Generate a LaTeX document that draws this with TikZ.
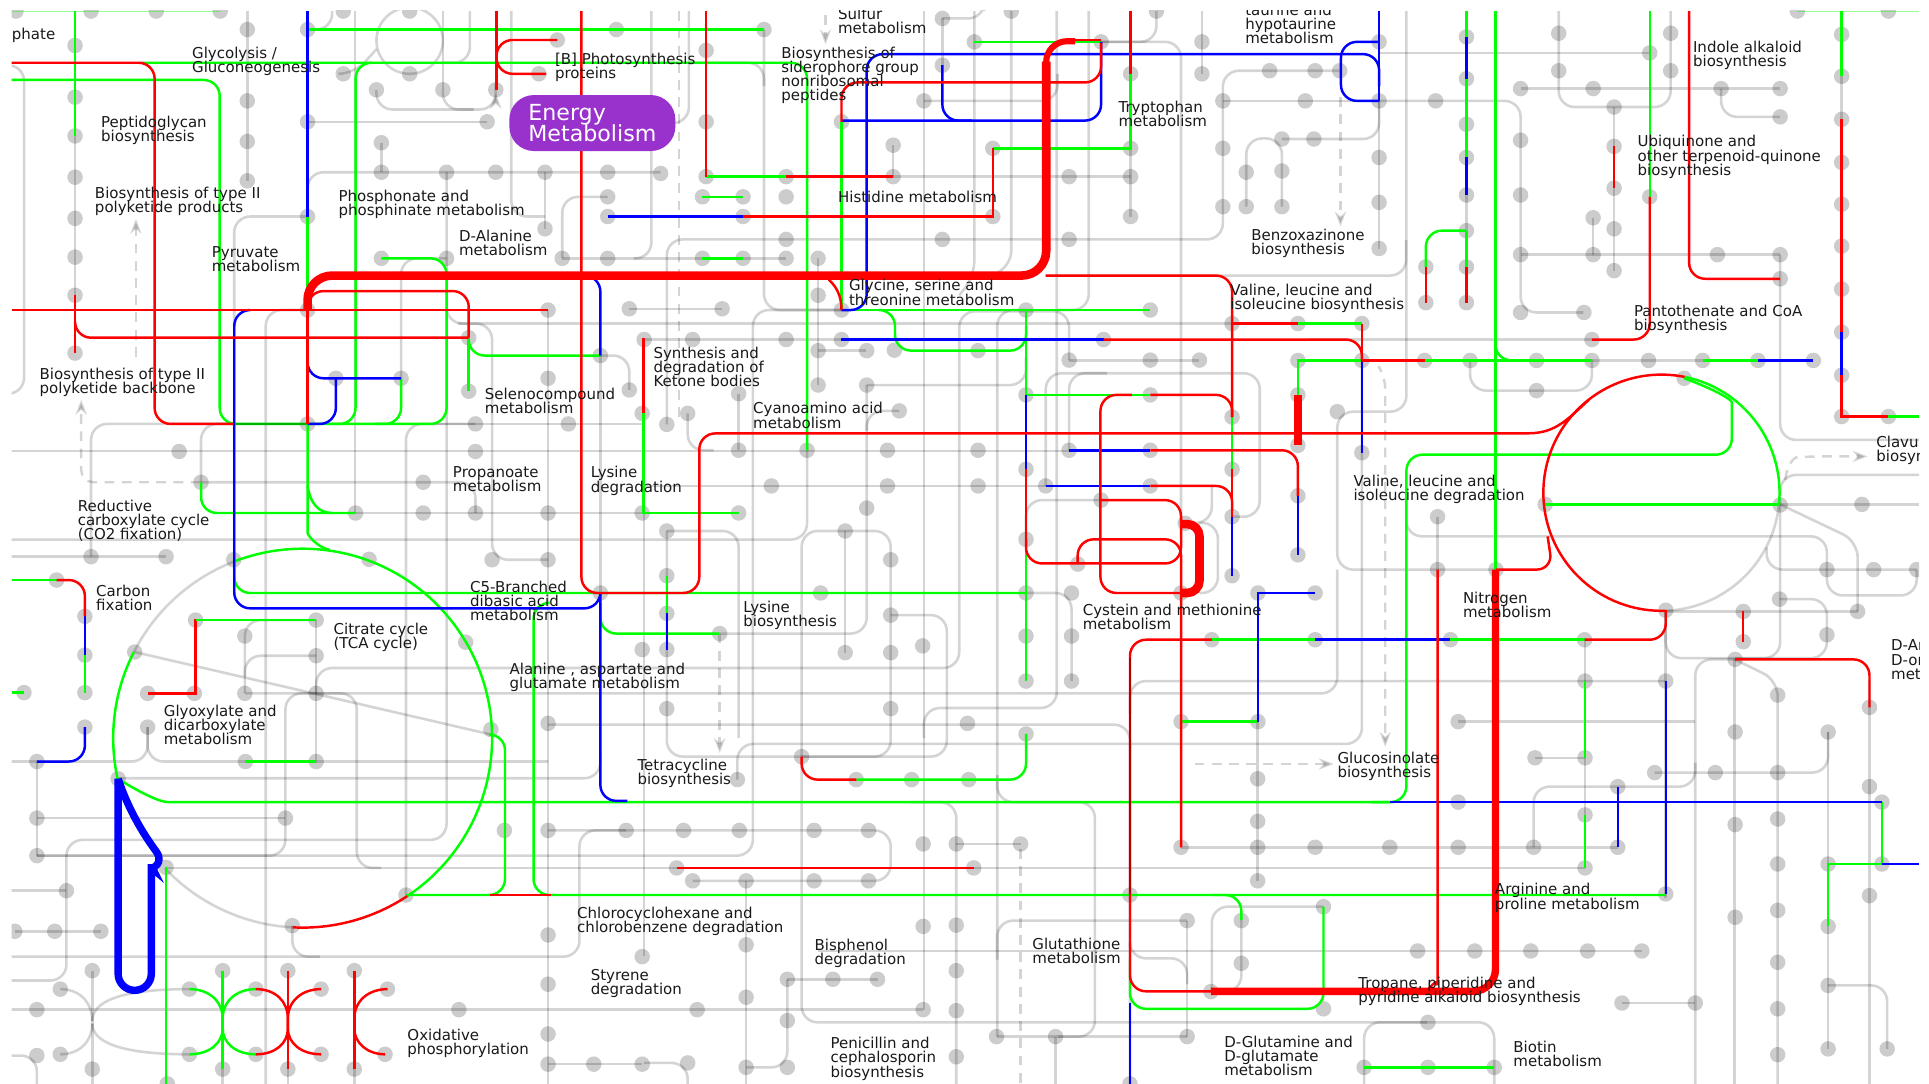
\documentclass[tikz,border=0pt]{standalone}
\usepackage{fontspec}
\setmainfont{DejaVu Sans}
\usepackage{xcolor}
\usetikzlibrary{arrows.meta}
\definecolor{mapred}{RGB}{255,0,0}
\definecolor{mapgreen}{RGB}{0,255,0}
\definecolor{mapblue}{RGB}{0,0,255}
\definecolor{energyfill}{RGB}{153,50,204}
\newcommand{\ringarc}[6]{\draw[#1] plot[domain=#5:#6,samples=90,smooth] ({#2+#4*cos(\x)},{#3+#4*sin(\x)});}
\begin{document}
\begin{tikzpicture}[x=1pt, y=-1pt, >={Stealth},
  gl/.style={draw=black, opacity=.17, line width=2.1pt, rounded corners=13pt},
  dsh/.style={draw=black, opacity=.17, line width=2pt, dash pattern=on 8pt off 6pt, rounded corners=10pt},
  dot/.style={fill=black, opacity=.2},
  ovl/.style={draw=black, opacity=.3, line width=2pt},
  rl/.style={draw=mapred, line width=2pt, rounded corners=13pt},
  gn/.style={draw=mapgreen, line width=2pt, rounded corners=13pt},
  bl/.style={draw=mapblue, line width=2pt, rounded corners=13pt},
  lbl/.style={anchor=north west, inner sep=0pt, align=left, text=black!90, yshift=-1pt,
    font={\fontsize{12.2}{11.5}\selectfont\lineskiplimit-10pt\relax}}]
  \path[fill=white] (0,0) rectangle (1568,881);
  \useasboundingbox (0,0) rectangle (1568,881);
  \clip (9.5,8.5) rectangle (1560,881);
  \draw[gl] (9.5,53)--(19.6,53)--(19.6,320)--(9.5,320);
  \draw[gl] (61,9)--(61,287);
  \draw[gl] (201,9)--(201,147);
  \draw[gl] (250,24)--(270,24)--(270,9);
  \draw[gl] (288.5,9)--(288.5,417);
  \draw[gl] (333,33) ellipse [x radius=27, y radius=27];
  \draw[gl] (279,60)--(288,60)--(306,40);
  \draw[gl] (360,9)--(360,73);
  \draw[gl] (382,9)--(382,51)--(360,51);
  \draw[gl,-{Stealth}] (306,73)--(306,89)--(403,89)--(403,76);
  \draw[gl] (360,73)--(360,89)--(385,89);
  \draw[gl] (415.6,9)--(415.6,176)--(443,176);
  \draw[gl] (250,99)--(396,99);
  \draw[gl] (250,176)--(190.4,176)--(190.4,482);
  \draw[gl] (250,176)--(250,140)--(537,140);
  \draw[gl] (310,116)--(310,140);
  \draw[gl] (363,140)--(363,682.7)--(54,682.7)--(54,724);
  \draw[gl] (443,140)--(443,186);
  \draw[gl] (494,160)--(457,160)--(457,210);
  \draw[gl] (457,210)--(639,210);
  \draw[gl] (363,210)--(326,210)--(326,307.5);
  \draw[gl] (386.5,344.6)--(330,344.6)--(330,727.5);
  \draw[gl] (250,344.6)--(522,344.6);
  \draw[gl] (74,452.5)--(74,344.6)--(250,344.6);
  \draw[gl] (163.4,392)--(163.4,344.6)--(190,344.6);
  \draw[gl] (216,881)--(216,252)--(250,252);
  \draw[gl] (363,250)--(363,263)--(400,263)--(400,455)--(445.5,455);
  \draw[gl] (445.5,252)--(445.5,881);
  \draw[gl] (488,289)--(511.5,289)--(511.5,317);
  \draw[gl] (511.5,251)--(587,251);
  \draw[gl] (488,289)--(488,482);
  \draw[gl] (529.5,9)--(529.5,210)--(515,210);
  \draw[gl] (560,9)--(560,100)--(540,100);
  \draw[gl] (560,51)--(621,51)--(621,70);
  \draw[gl] (621,24)--(621,252)--(684,252);
  \draw[gl] (542,345)--(542,194.6)--(994,194.6)--(994,57.5)--(1089,57.5);
  \draw[gl] (994,82)--(1121,82);
  \draw[gl] (372,263)--(1055,263);
  \draw[gl] (523.6,276)--(897,276);
  \draw[gl] (9,366.5)--(935,366.5);
  \draw[gl] (163,392)--(386.5,392)--(386.5,417);
  \draw[gl] (524,395)--(935,395);
  \draw[gl] (289,417)--(600.4,417);
  \draw[gl] (9,438.6)--(656,438.6)--(656,360);
  \draw[gl] (9,452.5)--(135,452.5);
  \draw[gl] (542,431.6)--(600.4,431.6)--(600.4,600);
  \draw[gl] (687,431.6)--(651.6,431.6)--(651.6,831)--(1214.6,831)--(1214.6,881);
  \draw[gl] (687,431.6)--(724,431.6)--(724,615)--(651.6,615);
  \draw[gl] (687,431.6)--(687,530.5);
  \draw[gl] (30,695.5)--(612,695.5)--(612,252)--(684,252);
  \draw[gl] (704.5,313)--(704.5,515)--(585,515);
  \draw[gl] (724,500)--(769.6,500)--(769.6,615)--(651.6,615);
  \draw[gl] (257,563.6)--(257,543)--(779.7,543)--(779.7,253)--(869,253)--(869,293);
  \draw[gl] (792,9)--(792,225)--(779.7,240);
  \draw[gl] (751,9)--(751,820.7);
  \draw[gl] (751,600)--(751,575.5)--(859,575.5)--(859,9);
  \draw[gl] (810.6,842.6)--(810.6,252)--(840,252);
  \draw[gl] (1143.2,9)--(1143.2,334.6)--(1087,334.6)--(1087,463)--(1216,463);
  \draw[gl] (1143,195)--(1143,224)--(850,224);
  \draw[gl] (1121,43)--(1341,43);
  \draw[gl] (1121,82)--(1236,82)--(1236,254)--(1287,254);
  \draw[gl] (1121,82)--(1121,113)--(1042,113);
  \draw[gl] (1121,82)--(1121,202);
  \draw[gl] (1236,72)--(1447,72);
  \draw[gl] (1399,72)--(1399,95)--(1447,95);
  \draw[gl] (1267,9)--(1267,87)--(1358,87)--(1358,9);
  \draw[gl] (1312,87)--(1312,220);
  \draw[gl] (1295,177)--(1295,207);
  \draw[gl] (1236,207)--(1447,207);
  \draw[gl] (1447,207)--(1447,357.6)--(1560,357.6);
  \draw[gl] (1497,9)--(1497,338);
  \draw[gl] (1192,9)--(1192,246);
  \draw[gl] (1107,293)--(1107,604.7)--(599.4,604.7)--(599.4,633.7);
  \draw[gl] (1065,276)--(1294,276);
  \draw[gl] (1055,293)--(1474,293);
  \draw[gl] (1195,293)--(1195,317.5)--(1294,317.5)--(1294,293);
  \draw[gl] (1447,410)--(1560,410);
  \draw[gl] (1447,410)--(1447,386)--(1560,386);
  \draw[gl] (1447,410)--(1447,535)--(1354,535)--(1354,496);
  \draw[gl] (1447,410)--(1510,440)--(1510,497);
  \draw[gl] (1354,497)--(1510,497);
  \draw[gl] (1143,400)--(1143,436)--(1485,436)--(1485,484)--(1558,484)--(1558,463);
  \draw[gl] (1436,445)--(1436,463)--(1558,463);
  \draw[gl] (1446.5,487)--(1485,487)--(1485,535)--(1410,535);
  \draw[gl] (1410,536)--(1445,553)--(1445,881);
  \draw[gl] (1410,536)--(1378,536)--(1378,881);
  \draw[gl] (1410,536)--(1410,881);
  \draw[gl] (1185.3,586.3)--(1378,586.3);
  \draw[gl] (1354,496)--(1354,730);
  \draw[gl] (1168.5,420)--(1168.5,463);
  \draw[gl] (1486,595)--(1486,628)--(1345,628);
  \draw[gl] (1247.7,616)--(1288.4,616);
  \draw[gl] (1288.4,520)--(1288.4,705.5);
  \draw[gl] (1315,639.4)--(1246.6,639.4)--(1246.6,688.7);
  \draw[gl] (1315,639.4)--(1378,639.4)--(1378,620);
  \draw[gl] (960,688.7)--(1315,688.7);
  \draw[gl] (135,705.5)--(1288,705.5);
  \draw[gl] (1022.3,586.6)--(1022.3,716);
  \draw[gl] (1075.8,737)--(985,737)--(985,806);
  \draw[gl] (1009,748)--(1009,806)--(995,806);
  \draw[gl] (965,748.3)--(810.6,748.3)--(810.6,780);
  \draw[gl] (965,748.3)--(965,842.6);
  \draw[gl] (918.5,770)--(918.5,779)--(965,779)--(965,800);
  \draw[gl] (665,773)--(1334.6,773);
  \draw[gl] (1160,831)--(1108.8,831)--(1108.8,881);
  \draw[gl] (1318.4,815.3)--(1378,815.3);
  \draw[gl] (1486,595)--(1486,852.6);
  \draw[gl] (1486,801)--(1534,801)--(1534,852.6);
  \draw[gl] (1519.6,553)--(1519.6,881);
  \draw[gl] (445.5,589)--(918.5,589)--(918.5,881);
  \draw[gl] (918.5,580)--(918.5,553.6)--(1354,553.6);
  \draw[gl] (199.5,563.6)--(1087,563.6)--(1087,463);
  \draw[gl] (199,563.6)--(199,504)--(257,504);
  \draw[gl] (199,550)--(199,533)--(257,533);
  \draw[gl] (257,504)--(257,619);
  \draw[gl] (232,665)--(232,563.6)--(290,563.6)--(290,705.5)--(310,705.5);
  \draw[gl] (30,619)--(30,695.5);
  \draw[gl] (9,619)--(120,619)--(120,591);
  \draw[gl] (120,591)--(120,619)--(445.5,619);
  \draw[gl] (96,632.6)--(488,632.6)--(488,612);
  \draw[gl] (30,665)--(232,665);
  \draw[gl] (30,695.5)--(232,695.5)--(232,665);
  \draw[gl] (9,724)--(54,724);
  \draw[gl] (54,724)--(54,797)--(9,797);
  \draw[gl] (12,757)--(82,757);
  \draw[gl] (9,777.6)--(471,777.6)--(471,675)--(509,675);
  \draw[gl] (237.6,752.4)--(237.6,777.6)--(260,777.6);
  \draw[gl] (445.5,675)--(724,675)--(724,716)--(563,716);
  \draw[gl] (9,820.7)--(750.4,820.7);
  \draw[gl] (49,804) .. controls (65,804) and (75,815) .. (75,830);
  \draw[gl] (154,804) .. controls (95,804) and (75,815) .. (75,830);
  \draw[gl] (49,857) .. controls (65,857) and (75,846) .. (75,832);
  \draw[gl] (154,857) .. controls (95,857) and (75,846) .. (75,832);
  \draw[gl] (75,789)--(75,881);
  \draw[gl] (9,858)--(30,858)--(30,881);
  \draw[gl] (181,869)--(181,881);
  \draw[gl] (234,869)--(234,881);
  \draw[gl] (288,869)--(288,881);
  \draw[gl] (445.5,865)--(522,865);
  \draw[gl] (740,652)--(777.3,652)--(777.3,881);
  \draw[gl] (777.3,686)--(829.6,686);
  \draw[gl] (640,796)--(713.3,796);
  \draw[gl] (640,796)--(640,867.6)--(606.5,867.6);
  \draw[gl] (606.5,716)--(606.5,881);
  \draw[gl] (523.6,417)--(523.6,777);
  \draw[gl] (523.6,864)--(559,864)--(559,881);
  \draw[gl] (542,431.6)--(542,615)--(651.6,615);
  \draw[gl] (600.4,320)--(600.4,366);
  \draw[gl] (559,336)--(559,366)--(580,366);
  \draw[gl] (731,334)--(704.5,334)--(704.5,350);
  \draw[gl] (665,210)--(665,313);
  \draw[gl] (665,285)--(704,285);
  \draw[gl] (704.5,313)--(834,313)--(834,290);
  \draw[gl] (869,293)--(975,293);
  \draw[gl] (822,9)--(822,217)--(805,224);
  \draw[gl] (859.6,60)--(859.6,82)--(751,82);
  \draw[gl] (885,9)--(885,252)--(860,252);
  \draw[gl] (895,34)--(960,34)--(960,425);
  \draw[gl] (1013,168)--(1013,112.5)--(1042,112.5)--(1042,168);
  \draw[gl] (919,9)--(919,176);
  \draw[gl] (726,118)--(726,143.6);
  \draw[gl] (726,143.6)--(919,143.6);
  \draw[gl] (766,15)--(800,15)--(800,9);
  \draw[gl] (766,15)--(766,53);
  \draw[gl] (895,34)--(940,34)--(940,9);
  \draw[gl] (977,9)--(977,60);
  \draw[gl] (850,395)--(850,303.4)--(1024,303.4)--(1024,420)--(1001,420);
  \draw[gl] (869,366)--(869,303.4)--(900,303.4);
  \draw[gl] (985,395)--(985,425)--(965,425);
  \draw[gl] (975,425)--(990,425)--(990,482)--(975,482);
  \draw[gl] (834,438)--(834,406.5)--(895,406.5);
  \draw[gl] (834,482)--(871,482)--(871,553.6);
  \draw[gl] (810.6,842.6)--(965,842.6);
  \draw[gl] (858,842.6)--(858,881);
  \draw[gl] (810.6,630)--(810.6,652)--(890,652)--(890,842.6)--(860,842.6);
  \draw[gl] (109.5,530)--(399,597);
  \ringarc{gl,rounded corners=0pt}{246}{600}{154}{207}{249}
  \ringarc{gl,rounded corners=0pt}{246}{600}{154}{93}{136.6}
  \ringarc{gl,rounded corners=0pt}{1350.5}{400.5}{96}{6}{88}
  \draw[dsh,->] (110.5,290)--(110.5,178);
  \draw[dsh,->] (163,392)--(66,392)--(66,325);
  \draw[dsh] (552,9)--(552,340);
  \draw[dsh,->] (585,515)--(585,612);
  \draw[dsh,->] (671,12)--(671,36);
  \draw[dsh,->] (1089.6,79)--(1089.6,184);
  \draw[dsh,->] (971,621)--(1084,621);
  \draw[dsh,->] (1122,300)--(1126,306)--(1126,607);
  \draw[dsh] (829.6,690)--(829.6,881);
  \draw[dsh,->] (1451,390) .. controls (1453,378) and (1458,372) .. (1470,371)--(1518,371);
  \foreach \x/\y in {13/9,74/9,127/9,179/9,279/9,333/9,61/37,61/79,61/110.5,61/144,61/177.5,61/209,61/240,61/287,
    201/24,201/82,201/115,201/147,250/24,250/99,250/176,250/252,279/60,306/73,333/60,360/73,403/73,396/99,
    453/32.5,438/60,501/24,310/116,310/140,363/140,403/140,443/140,494/140,494/160,494/176,443/186,457/210,
    494/210,310/210,363/210,445.5/252,511.5/251,381/274.5,488/289,
    621/24,574/41,766/15,822/9,895/34,792/34,977/34,940/9,766/53,977/60,919/60,1032/57.5,751/82,994/82,574/99,
    684/99,726/118,807/120.6,919/120.6,994/120.6,537/141,574/143.6,639/143.6,726/143.6,869/143.6,
    919/143.6,1013/140,571/160,604/160,639/160,604/176,807/176,919/176,994/168,1013/168,
    639/194.6,766/194.6,869/194.6,571/210,604/210,639/210,665/210,665/240,587/251,684/252,834/252,935/252,
    1001.5/263,523.6/276,563/276,639/276,684/276,897/276,665/285,704.5/285,727/284.6,795/285,869/292.7,
    935/292.7,975/292.7,
    1121/34,1192/30,1267/27,1358/27,1341/43,1461/9,1535/9,1497/28,1497/62,1497/97,1497/132,1497/166,1497/200,
    1497/235,1497/270,1069/57.5,1089/57.5,1192/64,1267/57.5,1358/57.5,1061/82,1121/82,1167/82,1236/72,1295/72,
    1399/72,1447/72,1447/95,1312/87,1192/101,1068/113,1042/113,1236/114,1312/119,1121/128,1192/128,1042/139,1042/168,1236/158.5,
    1192/158.5,1312/153,1341/160,1121/164.5,1295/177,1312/186,1192/187.5,1121/202,1236/207,1295/207,1396/207,
    1447/207,1312/220,1159/217,1192/217,1447/226.6,1159/246,1192/246,1236/254,1287.5/254,1055/263,1107/263,
    1294/276,1055/293,1107/293,1158/293,1195/293,1249/293,1294/293,1340/293,1384/293,1429/293,1474/293}
    \fill[dot] (\x,\y) circle (6.3);
  \foreach \x/\y in {273/307.5,326/307.5,381/318,445.5/307.5,511.5/317,522/336,250/344.6,386.5/344.6,462/344.6,
    145.6/367,386.5/367,163.4/392,344/392,289/417,344/417,386.5/417,445.5/417,522/417,74/452.5,135/452.5,190/455,
    300/454.6,400/455,445.5/455,46/471.5,69/501,69/532.5,488/482,159/504,257/504,199/517,109.5/530,257/533,
    378.5/522,19.5/563,69/563,120/563.6,158/563.6,199/563.6,257/563.6,445.5/588,69/591,120/591,399/593,522/528,
    665/313,704.5/313,600.4/320,731/334,559/336,542/345,600.4/366,656/366,721.4/366,795/366,869/366,
    935/366,834/321,935/321,1001.5/339,1001.5/381.5,834/381.5,627/395,721.4/395,795/395,850/395,935/395,895/406.5,
    704.5/413,600.4/417,1001.5/420,542/431.6,687/431.6,834/438.4,963.4/425.4,724/455,876/458.5,1001.5/468,
    542/468,667/482,834/482,871/482,960/482,1022.5/482,542/498.6,724/500,585/515,985/520,834/517,871/517,542/528,
    687/530.5,724/530.5,750/525,834/553.6,871/553.6,542/576,724/576,786.4/588,960/586.6,1022.5/586.6,
    1369/307.5,1249/317.5,1055/321,1087/334.6,1497/338.6,1535/338.6,1497/305,1107/368,1055/362,1447/410.5,1256/410,
    1513.5/410,1055/403,1168.5/420,1055/451,1168.5/463,1216/463,1485/463,1523/463,1558/463,1069/482,1354/496,
    1446.5/487,1417/497,1510/497,1069/520,1179/520,1288/520,1485/516,1417/521.6,1410.4/536,1445/565,1519.6/575,
    1288.4/553.6,1354/553.6,1185.3/586.6,
    30/619,199.5/619,257/619,96/633,30/665,232/665,410/675,445.5/675,509/675,30/695.5,135/705,54/724,330/727.5,
    12/757,44.5/757,82/757,237.6/752.4,445.5/760,522/777.6,75/789,181/789,234/789,288/789,445.5/800,49/804,154/804,
    208/804,261/804,315/804,30/820.7,373/820.7,445.5/840.5,49/857,154/857,208/857,261/857,313/857,30/858,75/869,
    181/869,234/869,288/869,445.5/865,482.6/865,522/865,136/881,
    834/596.6,651.6/615,599.4/633.7,696/633.7,741/633.7,787.4/633.7,1022.3/633,1022.3/667.6,555.6/675,601/675,
    661.7/675,706/675,750.4/686,777.3/686,829.6/686,960/688.7,1022.3/688.7,550/705.5,791.5/705.5,563/716,606.5/716,
    661.7/716,706/716,1022.3/716,918.5/727.5,965/748.3,1009/748.3,750.4/753,777.3/752,606.5/768,1009/783,
    777.3/789,640/796,677/796,713.3/796,984.3/806,606.5/810.6,566.7/820.7,750.4/820.7,777.3/821.5,640/829.6,810/842.6,
    858/842.6,965/842.6,777.3/859,559/864,606.5/867.6,640/867.6,918.5/881,
    1486/595,1410.4/595,1519.6/639.4,1529.7/652,1247.7/616,1288.4/616,1345/628,1394.3/628,1445/628,1315/639.4,
    1185.3/652,1288.4/662.4,1410.4/670.3,1445/665.7,1069/688.7,1129.7/688.7,1185.3/688.7,1246.6/688.7,1315/688.7,
    1288.4/705.5,1486/702.3,1445/702.3,1529.7/702.3,1354/726.6,1519.6/728,1075.8/737,1410.4/745.6,1486/753,1445/740,
    1152.3/773,1198.8/773,1244.3/773,1290.5/773,1334.6/773,1445/782.2,1486/801,1318.4/815.3,1378/815.3,1445/820,
    1075.8/820,1160.7/831,1486/852.6,1534/852.6,1445/857.3,1108.8/867.6,1160.7/867.6,1214.6/867.6}
    \fill[dot] (\x,\y) circle (6.3);
  \draw[gn,line width=.8pt,opacity=.4] (9.5,9)--(179,9);
  \draw[gn,line width=.8pt,opacity=.4] (1461,9)--(1560,9);
  \draw[gn] (250,24)--(621,24);
  \draw[gn] (115,51)--(656,51)--(656,366);
  \draw[gn] (300,51)--(289,51)--(289,344.6)--(270,344.6);
  \draw[gn] (9.5,65)--(178.6,65)--(178.6,344.6)--(250,344.6);
  \draw[ovl] (192,344.6)--(250,344.6);
  \draw[gn] (250,344.6)--(363,344.6)--(363,210)--(310,210);
  \draw[gn] (326,307.5)--(326,344.6)--(305,344.6);
  \draw[gn] (61,9)--(61,110.5);
  \draw[gn] (250,176)--(250,252);
  \draw[gn] (381,274.5)--(381,318);
  \draw[gn] (381,274.5)--(381,289)--(488,289);
  \draw[gn] (190.4,455)--(190.4,482)--(834,482);
  \draw[gn] (250,344.6)--(250,420) .. controls (250,435) and (258,445) .. (268,447);
  \draw[gn] (250,395) .. controls (252,408) and (258,417) .. (270,417);
  \draw[gn] (163.4,392)--(163.4,417)--(289,417);
  \draw[gn] (9.5,471.5)--(46,471.5);
  \draw[gn] (69,532.5)--(69,563);
  \draw[gn] (9.5,563)--(19.5,563);
  \draw[gn] (445,490)--(433.7,490)--(433.7,727.5)--(1354,727.5);
  \draw[gn] (985,727.5)--(1009,727.5)--(1009,748);
  \draw[gn] (330,727.5)--(410.5,727.5)--(410.5,597)--(399,597);
  \draw[gn] (96,633) .. controls (115,645) and (130,652) .. (150,652) -- (1130,652);
  \draw[gn] (1369,307.5) .. controls (1395,317) and (1407.7,325) .. (1407.7,340)--(1407.7,369.6)--(1143.2,369.6)--(1143.2,652)--(1115,652);
  \draw[gn] (1529.7,652)--(1529.7,702.3);
  \draw[gn,sharp corners] (1486,753)--(1486,702.3)--(1529.7,702.3);
  \draw[gn] (135,705)--(135,881);
  \draw[gn,sharp corners] (523,336)--(523,417)--(600.4,417);
  \draw[gn] (542,468)--(542,498.6);
  \draw[gn] (488,490)--(488,515)--(585,515);
  \draw[gn] (574,143.6)--(639,143.6);
  \draw[gn] (571,160)--(604,160);
  \draw[gn] (571,210)--(604,210);
  \draw[gn,sharp corners] (807,120.6)--(919,120.6)--(919,60);
  \draw[gn] (792,34)--(895,34);
  \draw[gn] (684,99)--(684,252);
  \draw[gn] (684,252)--(935,252);
  \draw[gn] (717,252)--(727.5,252)--(727.5,285)--(834,285)--(834,265);
  \draw[gn] (834,252)--(834,321);
  \draw[gn] (834,438.4)--(834,553.6);
  \draw[gn] (834,321)--(935,321);
  \draw[gn] (1001.5,339)--(1001.5,381.5);
  \draw[gn] (1055,263)--(1107,263);
  \draw[gn,sharp corners] (1055,321)--(1055,293)--(1107,293);
  \draw[gn] (1158,293)--(1294,293);
  \draw[gn] (1215.6,9)--(1215.6,463);
  \draw[gn] (1215.6,280)--(1215.6,293)--(1240,293);
  \draw[gn] (1384,293)--(1429,293);
  \draw[gn] (1341,9)--(1341,160);
  \draw[gn] (1192,9)--(1192,30);
  \draw[gn] (1192,64)--(1192,128);
  \draw[gn] (1192,187.5)--(1159,187.5)--(1159,217);
  \draw[gn] (1192,187.5)--(1192,217);
  \draw[gn] (1497,9)--(1497,62);
  \draw[gn] (1535,338.6)--(1560,338.6);
  \draw[gn] (960,586.6)--(1022.5,586.6);
  \draw[gn] (985,520)--(1069,520);
  \draw[gn] (1179,520)--(1288,520);
  \draw[gn] (918.5,780)--(918.5,820)--(1075.8,820)--(1075.8,737);
  \draw[gn] (1288.4,553.6)--(1288.4,616);
  \draw[gn] (1288.4,662.4)--(1288.4,705.5);
  \draw[gn] (199.5,619)--(257,619);
  \draw[gn] (696,633.7)--(834,633.7)--(834,596.6);
  \draw[gn] (1108.8,867.6)--(1214.6,867.6);
  \draw[gn] (1256,410)--(1447,410);
  \ringarc{gn,rounded corners=0pt}{246}{600}{154}{-111}{56.5}
  \ringarc{gn,rounded corners=0pt}{246}{600}{154}{167.6}{207}
  \ringarc{gn,rounded corners=0pt}{1350.5}{400.5}{96}{-78.7}{6}
  \draw[gn,sharp corners] (154,804) .. controls (170,804) and (181,814) .. (181,828)--(181,836) .. controls (181,848) and (170,857) .. (154,857);
  \draw[gn,sharp corners] (208,804) .. controls (192,804) and (181,814) .. (181,828)--(181,836) .. controls (181,848) and (192,857) .. (208,857);
  \draw[gn] (181,789)--(181,869);
  \draw[bl] (250,9)--(250,176);
  \draw[bl] (472,224)--(488,224)--(488,289);
  \draw[bl] (202,252)--(190.4,252)--(190.4,494.5)--(488,494.5)--(488,482);
  \draw[bl] (488,482)--(488,651)--(510,651);
  \draw[bl] (250,280)--(250,307.5)--(326,307.5);
  \draw[bl] (273,307.5)--(273,344.6)--(250,344.6);
  \draw[bl] (69,501)--(69,532.5);
  \draw[bl] (1130,652)--(1529.7,652);
  \draw[bl] (1529.7,702.3)--(1560,702.3);
  \draw[bl] (542,498.6)--(542,528);
  \draw[bl] (494,176)--(604,176);
  \draw[bl] (684,252)--(704.5,252)--(704.5,44)--(1121,44)--(1121,70);
  \draw[bl] (1121,9)--(1121,82);
  \draw[bl] (1121,34)--(1090,34)--(1090,82)--(1121,82);
  \draw[bl] (895,34)--(895,98)--(684,98);
  \draw[bl] (766,53)--(766,98)--(790,98);
  \draw[bl] (834,321)--(834,381.5);
  \draw[bl] (1001.5,420)--(1001.5,468);
  \draw[bl] (684,276)--(897,276);
  \draw[bl] (1107,293)--(1107,368);
  \draw[bl] (1055,403)--(1055,451);
  \draw[bl] (869,366)--(935,366);
  \draw[bl] (850,395)--(935,395);
  \draw[bl] (1429,293)--(1474,293);
  \draw[bl] (1192,30)--(1192,64);
  \draw[bl] (1192,128)--(1192,158.5);
  \draw[bl] (1497,270)--(1497,305);
  \draw[bl,sharp corners] (1022.5,586.6)--(1022.5,482)--(1069,482);
  \draw[bl] (1069,520)--(1179,520);
  \draw[bl] (918.5,815)--(918.5,881);
  \draw[bl] (1354,553.6)--(1354,727);
  \draw[bl] (1315,639.4)--(1315,688.7);
  \draw[bl] (30,619)--(69,619)--(69,591);
  \draw[bl,line width=6pt,rounded corners=13.5pt] (96,633)--(96,805)--(123,805)--(123,716) .. controls (123,709) and (127,705) .. (135,703) .. controls (118,680) and (105,660) .. (96,633);
  \draw[rl] (9.5,51)--(125.7,51)--(125.7,344.6)--(190,344.6);
  \draw[rl] (403.6,9)--(403.6,73);
  \draw[rl] (453,32.5)--(403.6,32.5)--(403.6,60)--(444,60);
  \draw[rl] (472.6,9)--(472.6,482)--(568.4,482)--(568.4,352.3)--(1230,352.3) .. controls (1265,352) and (1275,340) .. (1291.5,325);
  \draw[rl,line width=7pt,rounded corners=20pt] (250,252)--(250,224)--(850.4,224)--(850.4,50);
  \draw[rl,line width=5pt,rounded corners=17pt] (850.4,55)--(850.4,33.5)--(874,33.5);
  \draw[rl] (870,32.5)--(895,32.5);
  \draw[rl] (250,252)--(250,236.6)--(381,236.6)--(381,274.5);
  \draw[rl] (250,252)--(250,344.6);
  \draw[rl] (9.5,252)--(445.5,252);
  \draw[rl] (61,240)--(61,287);
  \draw[rl] (61,262)--(61,274.5)--(381,274.5);
  \draw[rl] (46,471.5)--(69,471.5)--(69,501);
  \draw[rl,sharp corners] (257,504)--(159,504)--(159,563.6)--(120,563.6);
  \draw[gn] (159,504)--(257,504);
  \draw[rl] (398,727.5)--(448,727.5);
  \draw[rl] (523,275)--(523,336);
  \draw[rl] (574,9)--(574,143.6);
  \draw[rl] (639,143.6)--(726,143.6);
  \draw[rl,sharp corners] (604,176)--(807,176)--(807,120.6);
  \draw[rl] (919,9)--(919,60);
  \draw[rl] (684,99)--(684,67)--(895,67)--(895,35);
  \draw[rl] (670,224) .. controls (680,232) and (684,240) .. (684,252);
  \draw[rl] (834,381.5)--(834,438.4);
  \draw[rl] (935,321)--(1001.5,321)--(1001.5,339);
  \draw[rl] (920,321)--(894.5,321)--(894.5,482)--(960,482);
  \draw[rl] (1001.5,381.5)--(1001.5,420);
  \draw[rl] (850,224)--(1001.5,224)--(1001.5,339);
  \draw[rl] (897,276)--(1107,276)--(1107,293);
  \draw[rl] (1001.5,263)--(1055,263);
  \draw[rl] (1107,263)--(1107,293);
  \draw[rl] (1107,293)--(1158,293);
  \draw[rl,line width=6.7pt] (1055,321)--(1055,362);
  \draw[rl] (935,366)--(1055,366)--(1055,403);
  \draw[rl] (935,395)--(1001.5,395)--(1001.5,415);
  \draw[rl] (1294,276)--(1341,276)--(1341,160);
  \draw[rl] (1373,9)--(1373,226.6)--(1447,226.6);
  \draw[rl] (1159,217)--(1159,246);
  \draw[rl] (1192,217)--(1192,246);
  \draw[rl] (1312,119)--(1312,153);
  \draw[rl] (1497,97)--(1497,270);
  \draw[rl,sharp corners] (1497,305)--(1497,338.6)--(1535,338.6);
  \draw[rl] (895,406.5)--(960,406.5)--(960,458)--(834,458)--(834,438);
  \draw[rl] (876,458)--(876,438.4)--(960,438.4)--(960,688.7);
  \draw[rl,line width=7pt,rounded corners=10pt] (960,426)--(975,426)--(975,482)--(960,482);
  \draw[rl] (1288,520)--(1354,520)--(1354,496);
  \draw[rl] (985,520)--(918.5,520)--(918.5,805.8)--(984.3,805.8);
  \draw[ovl] (918.5,535)--(918.5,727);
  \draw[rl,line width=6pt,rounded corners=18pt] (984.3,805.8)--(1215.6,805.8)--(1215.6,463);
  \draw[rl] (1168.5,463)--(1168.5,788) .. controls (1168.5,795) and (1165,800) .. (1160,805);
  \draw[rl] (1417,497)--(1417,521.6);
  \draw[rl] (1410.4,536)--(1519.6,536)--(1519.6,575);
  \draw[rl] (550,705.5)--(791.5,705.5);
  \draw[rl] (651.6,615)--(651.6,633.7)--(696,633.7);
  \draw[rl] (1216,463)--(1262,463)--(1258,436);
  \ringarc{rl,rounded corners=0pt}{246}{600}{154}{56.5}{93}
  \ringarc{rl,rounded corners=0pt}{1350.5}{400.5}{96}{88}{281.3}
  \draw[rl,sharp corners] (208,804) .. controls (224,804) and (234,814) .. (234,828)--(234,836) .. controls (234,848) and (224,857) .. (208,857);
  \draw[rl,sharp corners] (261,804) .. controls (245,804) and (234,814) .. (234,828)--(234,836) .. controls (234,848) and (245,857) .. (261,857);
  \draw[rl] (234,789)--(234,869);
  \draw[rl,sharp corners] (315,804) .. controls (299,804) and (288,814) .. (288,828)--(288,836) .. controls (288,848) and (299,857) .. (313,857);
  \draw[rl] (288,789)--(288,869);
  \node[fill=energyfill, text=white, rounded corners=20pt, minimum width=135pt, minimum height=45.5pt,
    inner sep=0pt, align=left, font={\fontsize{18}{17.6}\selectfont\lineskiplimit-10pt\relax}] (energy) at (481.5,100) {Energy\\Metabolism};
  \node[lbl] (phate) at (9.5,22) {phate};
  \node[lbl] (glyco) at (156,37) {Glycolysis /\\Gluconeogenesis};
  \node[lbl] (photo) at (451,42) {[B] Photosynthesis\\proteins};
  \node[lbl] (sulfur) at (681,5) {Sulfur\\metabolism};
  \node[lbl] (sidero) at (635,37) {Biosynthesis of\\siderophore group\\nonribosomal\\peptides};
  \node[lbl] (taurine) at (1012,2) {taurine and\\hypotaurine\\metabolism};
  \node[lbl] (indole) at (1376,32) {Indole alkaloid\\biosynthesis};
  \node[lbl] (pepti) at (82,93) {Peptidoglycan\\biosynthesis};
  \node[lbl] (trypto) at (909,81) {Tryptophan\\metabolism};
  \node[lbl] (ubi) at (1331,109) {Ubiquinone and\\other terpenoid-quinone\\biosynthesis};
  \node[lbl] (poly) at (77,151) {Biosynthesis of type II\\polyketide products};
  \node[lbl] (phospho) at (275,153) {Phosphonate and\\phosphinate metabolism};
  \node[lbl] (histi) at (681,154) {Histidine metabolism};
  \node[lbl] (dala) at (373,186) {D-Alanine\\metabolism};
  \node[lbl] (benzo) at (1017,185) {Benzoxazinone\\biosynthesis};
  \node[lbl] (pyru) at (172,199) {Pyruvate\\metabolism};
  \node[lbl] (glycine) at (690,226) {Glycine, serine and\\threonine metabolism};
  \node[lbl] (valbio) at (1000,230) {Valine, leucine and\\isoleucine biosynthesis};
  \node[lbl] (panto) at (1328,247) {Pantothenate and CoA\\biosynthesis};
  \node[lbl] (ketone) at (531,281) {Synthesis and\\degradation of\\Ketone bodies};
  \node[lbl] (backbone) at (32,298) {Biosynthesis of type II\\polyketide backbone};
  \node[lbl] (seleno) at (394,314) {Selenocompound\\metabolism};
  \node[lbl] (cyano) at (612,326) {Cyanoamino acid\\metabolism};
  \node[lbl] (clavu) at (1525,353) {Clavu\\biosyn};
  \node[lbl] (propa) at (368,378) {Propanoate\\metabolism};
  \node[lbl] (lysdeg) at (480,378) {Lysine\\degradation};
  \node[lbl] (valdeg) at (1100,385) {Valine, leucine and\\isoleucine degradation};
  \node[lbl] (reduct) at (63,405) {Reductive\\carboxylate cycle\\(CO2 fixation)};
  \node[lbl] (cfive) at (382,471) {C5-Branched\\dibasic acid\\metabolism};
  \node[lbl] (carbon) at (78,474) {Carbon\\fixation};
  \node[lbl] (nitro) at (1189,480) {Nitrogen\\metabolism};
  \node[lbl] (cystein) at (880,490) {Cystein and methionine\\metabolism};
  \node[lbl] (lysbio) at (604,487) {Lysine\\biosynthesis};
  \node[lbl] (citrate) at (271,505) {Citrate cycle\\(TCA cycle)};
  \node[lbl] (dar) at (1537,519) {D-Ar\\D-or\\met};
  \node[lbl] (alanine) at (414,538) {Alanine , aspartate and\\glutamate metabolism};
  \node[lbl] (glyox) at (133,572) {Glyoxylate and\\dicarboxylate\\metabolism};
  \node[lbl] (glucos) at (1087,610) {Glucosinolate\\biosynthesis};
  \node[lbl] (tetra) at (518,616) {Tetracycline\\biosynthesis};
  \node[lbl] (argin) at (1215,717) {Arginine and\\proline metabolism};
  \node[lbl] (chloro) at (469,736) {Chlorocyclohexane and\\chlorobenzene degradation};
  \node[lbl] (bisph) at (662,762) {Bisphenol\\degradation};
  \node[lbl] (gluta) at (839,761) {Glutathione\\metabolism};
  \node[lbl] (styrene) at (480,787) {Styrene\\degradation};
  \node[lbl] (tropane) at (1104,793) {Tropane, piperidine and\\pyridine alkaloid biosynthesis};
  \node[lbl] (oxida) at (331,835) {Oxidative\\phosphorylation};
  \node[lbl] (penic) at (675,842) {Penicillin and\\cephalosporin\\biosynthesis};
  \node[lbl] (dgluta) at (995,841) {D-Glutamine and\\D-glutamate\\metabolism};
  \node[lbl] (biotin) at (1230,845) {Biotin\\metabolism};
\end{tikzpicture}
\end{document}
